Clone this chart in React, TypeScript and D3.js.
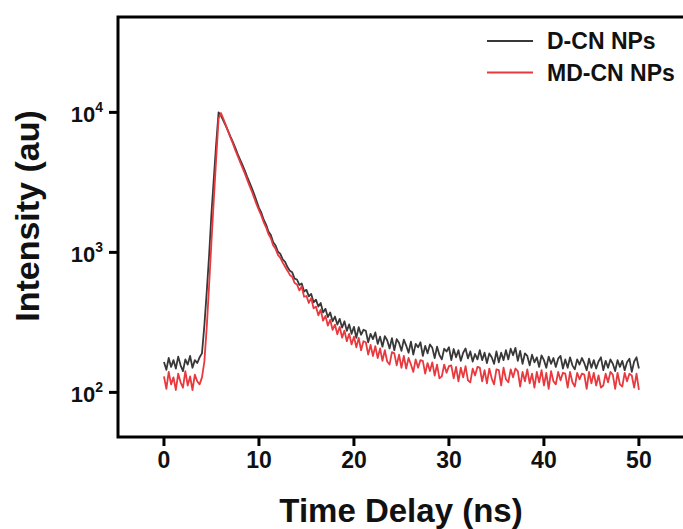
import React from 'react';
import * as d3 from 'd3';

// Time grid of the decay traces (ns)
const timeStart = 0;
const timeStep = 0.25;

// D-CN NPs intensity (counts), one value every 0.25 ns from 0 to 50 ns
const dcnValues = [
  165, 145, 176, 152, 170, 148, 180, 156, 142, 172, 158, 182, 150, 170, 162, 178, 190,
  300, 520, 950, 1900, 3400, 6000, 10000,
  9500, 8750, 8050, 7350, 6700, 6150, 5600, 5050, 4620,
  4230, 3850, 3480, 3170, 2880, 2600, 2330, 2080,
  1920, 1710, 1580, 1410, 1330, 1180, 1120, 1010,
  975, 890, 855, 785, 740, 720, 650, 640,
  585, 600, 525, 540, 485, 505, 440, 460,
  410, 435, 372, 395, 345, 372, 322, 348,
  305, 335, 290, 322, 275, 306, 262, 294,
  245, 292, 258, 280, 275, 228, 262, 240,
  268, 222, 250, 212, 252, 236, 206, 244,
  200, 240, 225, 198, 238, 216, 192, 230,
  186, 222, 210, 228, 182, 215, 190, 220,
  208, 176, 212, 185, 172, 205, 196, 210,
  170, 204, 178, 200, 168, 192, 206, 175,
  196, 166, 188, 172, 200, 170, 192, 162,
  190, 178, 160, 196, 164, 192, 170, 200,
  172, 205, 184, 208, 168, 198, 160, 190,
  182, 156, 186, 164, 178, 152, 184, 170,
  150, 180, 160, 176, 152, 174, 182, 148,
  172, 150, 178, 156, 146, 172, 158, 176,
  162, 144, 174, 150, 170, 148, 166, 178,
  144, 168, 150, 172, 160, 142, 170, 152,
  168, 144, 164, 174, 140, 166, 178, 148,
];

// MD-CN NPs intensity (counts), same time grid
const mdcnValues = [
  130, 106, 140, 114, 128, 104, 136, 118, 108, 142, 112, 130, 104, 134, 120, 114, 128,
  165, 290, 580, 1200, 2400, 4700, 9000,
  9900, 9000, 8150, 7350, 6600, 6000, 5400, 4900, 4450,
  4050, 3680, 3320, 3000, 2720, 2450, 2200, 2000,
  1830, 1640, 1510, 1350, 1260, 1120, 1060, 960,
  915, 845, 790, 740, 690, 668, 605, 590,
  535, 570, 482, 488, 435, 472, 398, 410,
  355, 390, 325, 352, 300, 330, 280, 305,
  260, 294, 246, 276, 232, 262, 220, 250,
  210, 245, 200, 232, 228, 186, 218, 182,
  214, 176, 206, 168, 200, 166, 158, 194,
  190, 156, 186, 150, 182, 148, 176, 158,
  140, 172, 150, 170, 168, 136, 162, 142,
  164, 132, 158, 126, 130, 158, 138, 154,
  156, 126, 152, 120, 150, 128, 154, 122,
  118, 148, 132, 152, 150, 120, 144, 116,
  148, 126, 114, 146, 144, 112, 150, 124,
  118, 146, 128, 148, 142, 110, 140, 120,
  146, 116, 136, 108, 140, 118, 144, 112,
  138, 106, 142, 120, 114, 140, 122, 138,
  136, 108, 140, 118, 110, 138, 124, 136,
  134, 106, 140, 116, 138, 112, 132, 108,
  112, 136, 118, 140, 134, 106, 138, 114,
  110, 138, 120, 136, 132, 108, 136, 104,
];

const seriesNames = ['D-CN NPs', 'MD-CN NPs'];
const seriesColors = ['#383838', '#e8393e'];
const xTicks = [0, 10, 20, 30, 40, 50];
const yTickExponents = [2, 3, 4];
const xDomain = [-4.84, 55.8];
const yDomain = [48, 48000];
const xTitle = 'Time Delay (ns)';
const yTitle = 'Intensity (au)';

const FONT = '"Liberation Sans", Arial, Helvetica, sans-serif';

export default function App() {
  const W = 683;
  const H = 529;
  const left = 118;
  const right = 694;
  const top = 17;
  const bottom = 437;

  const x = d3.scaleLinear().domain(xDomain).range([left, right]);
  const y = d3.scaleLog().domain(yDomain).range([bottom, top]);

  const line = d3
    .line<number>()
    .x((_, i) => x(timeStart + i * timeStep))
    .y((d) => y(d));

  const series = [dcnValues, mdcnValues];

  return (
    <div style={{ position: 'absolute', left: 0, top: 0 }}>
      <svg width={W} height={H} style={{ display: 'block', background: '#fff' }} fontFamily={FONT}>
        <rect x={0} y={0} width={W} height={H} fill="#fff" />
        {/* data */}
        {series.map((vals, si) => (
          <path
            key={si}
            d={line(vals) || ''}
            fill="none"
            stroke={seriesColors[si]}
            strokeWidth={1.8}
            strokeLinejoin="round"
          />
        ))}
        {/* frame */}
        <path
          d={`M${right},${top}H${left}V${bottom}H${right}V${top}`}
          fill="none"
          stroke="#000"
          strokeWidth={3}
          strokeLinecap="square"
        />
        {/* x ticks */}
        {xTicks.map((t) => (
          <g key={t}>
            <line x1={x(t)} x2={x(t)} y1={bottom} y2={bottom + 9} stroke="#000" strokeWidth={3} />
            <text x={x(t)} y={468} textAnchor="middle" fontSize={23} fontWeight="bold" fill="#111">
              {t}
            </text>
          </g>
        ))}
        {/* y ticks */}
        {yTickExponents.map((e) => {
          const yy = y(Math.pow(10, e));
          return (
            <g key={e}>
              <line x1={left - 9} x2={left} y1={yy} y2={yy} stroke="#000" strokeWidth={3} />
              <text x={103} y={yy + 9.5} textAnchor="end" fontWeight="bold" fill="#111" fontSize={22}>
                10
                <tspan fontSize={14} dy={-10}>
                  {e}
                </tspan>
              </text>
            </g>
          );
        })}
        {/* axis titles */}
        <text x={401} y={522} textAnchor="middle" fontSize={33} fontWeight="bold" fill="#111">
          {xTitle}
        </text>
        <text
          transform={`translate(39,216) rotate(-90)`}
          textAnchor="middle"
          fontSize={34}
          fontWeight="bold"
          fill="#111"
        >
          {yTitle}
        </text>
        {/* legend */}
        {seriesNames.map((name, i) => {
          const ly = 41 + i * 31.5;
          return (
            <g key={name}>
              <line x1={487} x2={533} y1={ly} y2={ly} stroke={seriesColors[i]} strokeWidth={2} />
              <text x={547} y={ly + 8} fontSize={23} fontWeight="bold" fill="#111">
                {name}
              </text>
            </g>
          );
        })}
      </svg>
    </div>
  );
}
